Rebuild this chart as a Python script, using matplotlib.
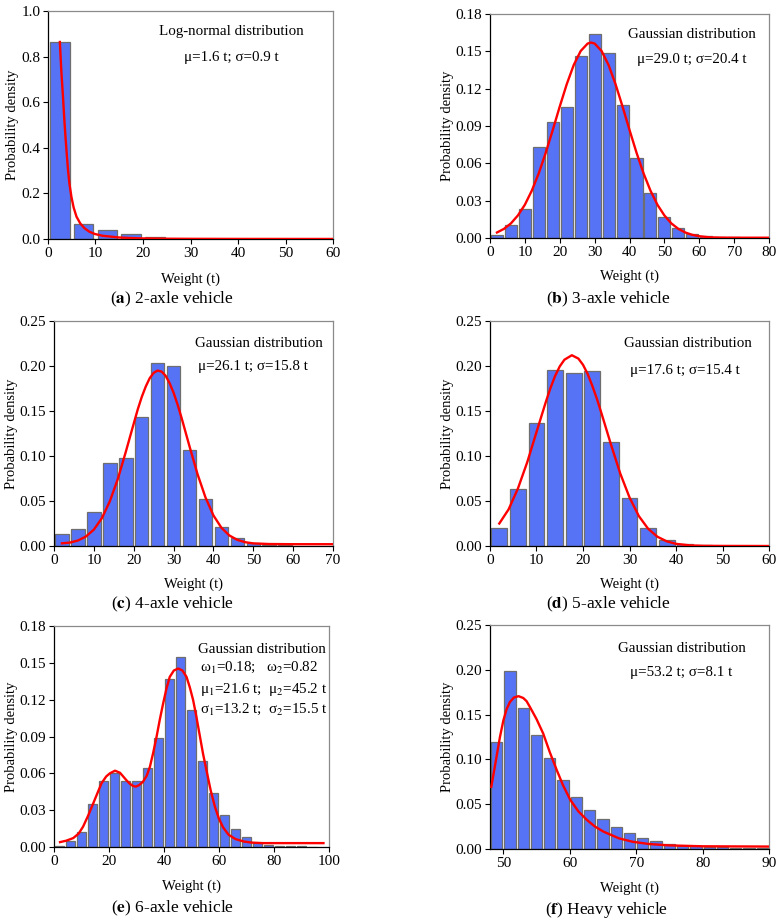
import matplotlib
matplotlib.use("Agg")
import matplotlib.pyplot as plt

plt.rcParams["font.family"] = ["Liberation Serif", "DejaVu Serif"]
plt.rcParams["mathtext.fontset"] = "stix"

BAR_COLOR = "#5673F5"
EDGE_COLOR = "#6e6e6e"
CURVE_COLOR = "#ff0000"

# (a) 2-axle
a_bins = [2.5, 7.5, 12.5, 17.5, 22.5, 27.5, 32.5, 37.5]
a_dens = [0.864, 0.064, 0.038, 0.022, 0.008, 0.002, 0.001, 0.0005]
a_fit_x = [2.5, 2.8, 3.16, 3.45, 3.73, 4.0, 4.22, 4.5, 4.93, 5.4, 6.0, 6.8, 7.7, 8.7, 9.85,
           11.5, 13.4, 15, 17, 20, 25, 30, 40, 60]
a_fit_y = [0.864, 0.74, 0.623, 0.52, 0.434, 0.36, 0.302, 0.245, 0.185, 0.138, 0.098, 0.068,
           0.047, 0.032, 0.022, 0.014, 0.010, 0.0065, 0.0045, 0.0025, 0.0012, 0.0007, 0.0003, 0.0001]

# (b) 3-axle
b_bins = [2, 6, 10, 14, 18, 22, 26, 30, 34, 38, 42, 46, 50, 54, 58, 62, 66, 70, 74, 78]
b_dens = [0.0024, 0.0107, 0.0235, 0.0733, 0.093, 0.105, 0.146, 0.164, 0.149, 0.107, 0.064,
          0.036, 0.017, 0.0078, 0.0035, 0.0016, 0.0008, 0.0004, 0.0003, 0.0002]
b_fit_x = [2, 4, 6, 8, 10, 12, 14, 16, 18, 20, 22, 24, 26, 28, 29, 30, 32, 34, 36, 38, 40, 42,
           44, 46, 48, 50, 52, 54, 56, 58, 60, 63, 66, 70, 80]
b_fit_y = [0.0044, 0.0073, 0.0117, 0.0181, 0.0267, 0.0381, 0.0521, 0.0686, 0.0868, 0.1056,
           0.1235, 0.1389, 0.1502, 0.1562, 0.157, 0.1562, 0.1502, 0.1389, 0.1235, 0.1056, 0.0868,
           0.0686, 0.0521, 0.0381, 0.0267, 0.0181, 0.0117, 0.0073, 0.0044, 0.0025, 0.0014, 0.0005,
           0.0003, 0.0002, 0.0002]

# (c) 4-axle
c_bins = [2, 6, 10, 14, 18, 22, 26, 30, 34, 38, 42, 46, 50, 54, 58]
c_dens = [0.0137, 0.0189, 0.038, 0.0926, 0.0974, 0.1437, 0.2037, 0.2004, 0.107, 0.0522,
          0.0215, 0.0085, 0.003, 0.0012, 0.0006]
c_fit_x = [2, 4, 6, 8, 10, 12, 14, 16, 18, 20, 21, 22, 23, 24, 25, 26, 27, 28, 29, 30, 31, 32,
           34, 36, 38, 40, 42, 44, 46, 48, 50, 54, 60, 70]
c_fit_y = [0.003, 0.0038, 0.0061, 0.0105, 0.0182, 0.0308, 0.0496, 0.0743, 0.1044, 0.136,
           0.1516, 0.1654, 0.177, 0.1864, 0.1924, 0.195, 0.1938, 0.1892, 0.181, 0.1704, 0.1573,
           0.1425, 0.1107, 0.080, 0.054, 0.034, 0.0203, 0.0117, 0.0068, 0.0042, 0.0029, 0.0022,
           0.002, 0.002]

# (d) 5-axle
d_bins = [2, 6, 10, 14, 18, 22, 26, 30, 34, 38, 42, 46]
d_dens = [0.0204, 0.063, 0.137, 0.196, 0.192, 0.194, 0.116, 0.0537, 0.0196, 0.007, 0.0022, 0.0008]
d_fit_x = [2, 4, 6, 8, 10, 12, 13, 14, 15, 16, 17.6, 19, 20, 21, 22, 23, 24, 26, 28, 30, 32,
           34, 36, 38, 40, 43, 46, 50, 60]
d_fit_y = [0.025, 0.0407, 0.0638, 0.093, 0.1266, 0.160, 0.1755, 0.189, 0.1996, 0.207, 0.212,
           0.2083, 0.2014, 0.1912, 0.178, 0.1634, 0.147, 0.113, 0.0807, 0.054, 0.0333, 0.0192,
           0.0103, 0.0052, 0.0024, 0.0007, 0.0002, 0.0001, 0.0]

# (e) 6-axle
e_bins = [2, 6, 10, 14, 18, 22, 26, 30, 34, 38, 42, 46, 50, 54, 58, 62, 66, 70, 74, 78, 82,
          86, 90, 94]
e_dens = [0.0005, 0.0051, 0.0122, 0.0352, 0.0539, 0.060, 0.0539, 0.0539, 0.0644, 0.0888,
          0.137, 0.1548, 0.1115, 0.070, 0.0444, 0.0257, 0.0146, 0.0079, 0.0032, 0.0019, 0.0012,
          0.0008, 0.0006, 0.0003]
e_fit_x = [2.2, 4.5, 7, 9, 10.6, 12.5, 14.3, 16, 17.3, 19, 20.3, 22.2, 24, 25.2, 26.5, 27.6,
           28.8, 29.8, 31, 32.4, 33.7, 34.9, 36.1, 37.3, 38.5, 39.7, 40.9, 42.1, 43.6, 45.2, 46.7,
           48.2, 49.4, 50.6, 51.8, 53, 54.2, 55.5, 57, 58.5, 60, 61.5, 63.5, 66, 69, 72, 76, 98]
e_fit_y = [0.004, 0.0052, 0.0073, 0.011, 0.0167, 0.026, 0.0357, 0.045, 0.052, 0.0575, 0.060,
           0.0622, 0.0605, 0.0574, 0.054, 0.0515, 0.0497, 0.0492, 0.0505, 0.0533, 0.058, 0.0655,
           0.077, 0.0898, 0.104, 0.117, 0.129, 0.1386, 0.1438, 0.1454, 0.1438, 0.1386, 0.130,
           0.1197, 0.106, 0.091, 0.076, 0.062, 0.046, 0.033, 0.023, 0.016, 0.010, 0.0065, 0.0045,
           0.0036, 0.0032, 0.0032]

# (f) heavy
f_bins = [49, 51, 53, 55, 57, 59, 61, 63, 65, 67, 69, 71, 73, 75, 77, 79, 81, 83, 85, 87, 89]
f_dens = [0.1196, 0.1987, 0.157, 0.1267, 0.101, 0.0769, 0.058, 0.0438, 0.033, 0.0241, 0.0178,
          0.0126, 0.0089, 0.0056, 0.0037, 0.003, 0.0022, 0.0018, 0.0015, 0.0012, 0.001]
f_fit_x = [48.2, 48.8, 49.5, 50.0, 50.5, 51.0, 51.6, 52.3, 53.0, 53.5, 54.0, 55.0, 56.0, 57.0,
           58.05, 59.0, 60.1, 61.3, 62.6, 63.8, 65.1, 67.4, 69.5, 72, 75, 80, 90]
f_fit_y = [0.0694, 0.095, 0.125, 0.143, 0.156, 0.164, 0.169, 0.1705, 0.1685, 0.165, 0.1586,
           0.145, 0.129, 0.108, 0.088, 0.071, 0.0546, 0.042, 0.0323, 0.025, 0.0193, 0.0119,
           0.0080, 0.0055, 0.0040, 0.003, 0.0027]

panels = [
    dict(rect=[0.0616, 0.7408, 0.3659, 0.2473], bins=a_bins, dens=a_dens, width=4.1,
         fx=a_fit_x, fy=a_fit_y, xlim=(0, 60), xticks=[0, 10, 20, 30, 40, 50, 60],
         ylim=(0, 1.0), yticks=[0.0, 0.2, 0.4, 0.6, 0.8, 1.0], yfmt="{:.1f}",
         ylab=-0.126, xlab=-0.175,
         notes=[("Log-normal distribution", 0.642, 0.908, "center"),
                ("μ=1.6 t; σ=0.9 t", 0.642, 0.798, "center")],
         cap=(172, 299, r"($\mathbf{a}$) 2-axle vehicle")),
    dict(rect=[0.629, 0.7419, 0.3582, 0.2430], bins=b_bins, dens=b_dens, width=3.45,
         fx=b_fit_x, fy=b_fit_y, xlim=(0, 80), xticks=[0, 10, 20, 30, 40, 50, 60, 70, 80],
         ylim=(0, 0.18), yticks=[0.0, 0.03, 0.06, 0.09, 0.12, 0.15, 0.18], yfmt="{:.2f}",
         ylab=-0.154, xlab=-0.170,
         notes=[("Gaussian distribution", 0.724, 0.906, "center"),
                ("μ=29.0 t; σ=20.4 t", 0.724, 0.795, "center")],
         cap=(608, 299, r"($\mathbf{b}$) 3-axle vehicle")),
    dict(rect=[0.0693, 0.4078, 0.3582, 0.2440], bins=c_bins, dens=c_dens, width=3.4,
         fx=c_fit_x, fy=c_fit_y, xlim=(0, 70), xticks=[0, 10, 20, 30, 40, 50, 60, 70],
         ylim=(0, 0.25), yticks=[0.0, 0.05, 0.10, 0.15, 0.20, 0.25], yfmt="{:.2f}",
         ylab=-0.151, xlab=-0.169,
         notes=[("Gaussian distribution", 0.735, 0.902, "center"),
                ("μ=26.1 t; σ=15.8 t", 0.713, 0.800, "center")],
         cap=(172, 604, r"($\mathbf{c}$) 4-axle vehicle")),
    dict(rect=[0.629, 0.4078, 0.3582, 0.2440], bins=d_bins, dens=d_dens, width=3.4,
         fx=d_fit_x, fy=d_fit_y, xlim=(0, 60), xticks=[0, 10, 20, 30, 40, 50, 60],
         ylim=(0, 0.25), yticks=[0.0, 0.05, 0.10, 0.15, 0.20, 0.25], yfmt="{:.2f}",
         ylab=-0.154, xlab=-0.169,
         notes=[("Gaussian distribution", 0.710, 0.902, "center"),
                ("μ=17.6 t; σ=15.4 t", 0.699, 0.778, "center")],
         cap=(608, 604, r"($\mathbf{d}$) 5-axle vehicle")),
    dict(rect=[0.0693, 0.0813, 0.3530, 0.2397], bins=e_bins, dens=e_dens, width=3.4,
         fx=e_fit_x, fy=e_fit_y, xlim=(0, 100), xticks=[0, 20, 40, 60, 80, 100],
         ylim=(0, 0.18), yticks=[0.0, 0.03, 0.06, 0.09, 0.12, 0.15, 0.18], yfmt="{:.2f}",
         ylab=-0.153, xlab=-0.176,
         notes=[("Gaussian distribution", 0.524, 0.896, "left"),
                (r"ω$_1$=0.18;   ω$_2$=0.82", 0.531, 0.814, "left"),
                (r"μ$_1$=21.6 t;  μ$_2$=45.2 t", 0.531, 0.715, "left"),
                (r"σ$_1$=13.2 t;  σ$_2$=15.5 t", 0.531, 0.624, "left")],
         cap=(172, 908, r"($\mathbf{e}$) 6-axle vehicle")),
    dict(rect=[0.629, 0.0792, 0.3582, 0.2430], bins=f_bins, dens=f_dens, width=1.7,
         fx=f_fit_x, fy=f_fit_y, xlim=(48, 90), xticks=[50, 60, 70, 80, 90],
         ylim=(0, 0.25), yticks=[0.0, 0.05, 0.10, 0.15, 0.20, 0.25], yfmt="{:.2f}",
         ylab=-0.154, xlab=-0.174,
         notes=[("Gaussian distribution", 0.688, 0.897, "center"),
                ("μ=53.2 t; σ=8.1 t", 0.685, 0.786, "center")],
         cap=(607, 910, r"($\mathbf{f}$) Heavy vehicle")),
]

W, H = 779, 922
fig = plt.figure(figsize=(W / 100, H / 100), dpi=100)

for p in panels:
    ax = fig.add_axes(p["rect"])
    ax.bar(p["bins"], p["dens"], width=p["width"], color=BAR_COLOR,
           edgecolor=EDGE_COLOR, linewidth=0.9, zorder=2)
    ax.plot(p["fx"], p["fy"], color=CURVE_COLOR, linewidth=1.7, zorder=3)
    ax.set_xlim(*p["xlim"])
    ax.set_ylim(*p["ylim"])
    ax.set_xticks(p["xticks"])
    ax.set_yticks(p["yticks"])
    ax.set_yticklabels([p["yfmt"].format(v) for v in p["yticks"]])
    ax.tick_params(direction="out", length=3.5, width=0.8, labelsize=11, pad=2,
                   colors="black")
    for side in ["left", "bottom"]:
        ax.spines[side].set_color("black")
        ax.spines[side].set_linewidth(0.9)
    for side in ["top", "right"]:
        ax.spines[side].set_color("#8a8a8a")
        ax.spines[side].set_linewidth(0.9)
    ax.set_ylabel("Probability density", fontsize=10.5)
    ax.set_xlabel("Weight (t)", fontsize=10.5)
    ax.yaxis.set_label_coords(p["ylab"], 0.5)
    ax.xaxis.set_label_coords(0.5, p["xlab"])
    ax.xaxis.label.set_va("center")
    ax.yaxis.label.set_va("center")
    for txt, tx, ty, ha in p["notes"]:
        ax.text(tx, ty, txt, transform=ax.transAxes, ha=ha, va="center", fontsize=10.8)
    cx, cy, ctext = p["cap"]
    fig.text(cx / W, 1 - cy / H, ctext, ha="center", va="center", fontsize=12.5)

fig.savefig("out.png", dpi=100)
